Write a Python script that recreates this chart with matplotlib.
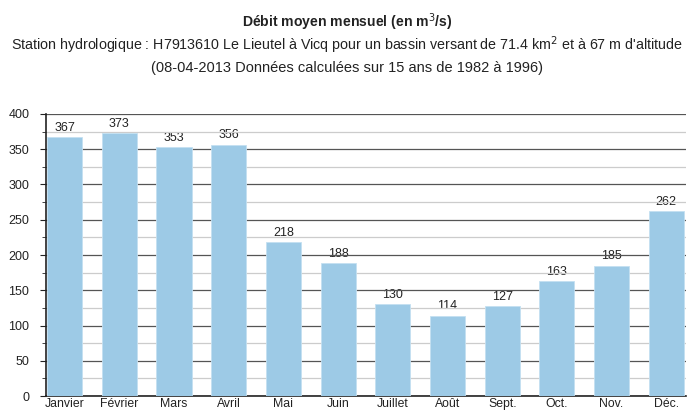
import matplotlib
matplotlib.use("Agg")
import matplotlib.pyplot as plt
from matplotlib.ticker import MultipleLocator

plt.rcParams['font.family'] = ['Liberation Sans', 'DejaVu Sans']

months = ["Janvier", "Février", "Mars", "Avril", "Mai", "Juin", "Juillet",
          "Août", "Sept.", "Oct.", "Nov.", "Déc."]
flow = [367, 373, 353, 356, 218, 188, 130, 114, 127, 163, 185, 262]

fig = plt.figure(figsize=(6.94, 4.11), dpi=100)
W, H = 694, 411
ax = fig.add_axes([46 / W, 1 - 396 / H, (686 - 46) / W, (396 - 114) / H])

x = list(range(len(months)))
ax.bar(x, flow, width=0.64, color="#9dcae6", edgecolor="#c4e0f1", linewidth=0.6, zorder=3)
for xi, v in zip(x, flow):
    ax.text(xi, v + 5, str(v), ha="center", va="bottom", fontsize=9, color="#222222", zorder=0.5)

ax.set_xlim(-0.34, 11.36)
ax.set_ylim(0, 400)
ax.yaxis.set_major_locator(MultipleLocator(50))
ax.yaxis.set_minor_locator(MultipleLocator(25))
ax.grid(axis="y", which="major", color="#555555", linewidth=0.9, zorder=1)
ax.grid(axis="y", which="minor", color="#cccccc", linewidth=0.9, zorder=1)
ax.set_xticks(x)
ax.set_xticklabels(months, fontsize=8.8, color="#222222")
ax.tick_params(axis="x", length=0, pad=1.5)
ax.tick_params(axis="y", which="major", length=4, color="#222222", labelsize=9, labelcolor="#222222", pad=8)
ax.tick_params(axis="y", which="minor", length=3, color="#222222")
for s in ("top", "right"):
    ax.spines[s].set_visible(False)
ax.spines["left"].set_color("#222222")
ax.spines["bottom"].set_color("#222222")
ax.spines["left"].set_linewidth(1.2)
ax.spines["bottom"].set_linewidth(1.2)

fig.text(0.5, 1 - 22 / H, "Débit moyen mensuel (en m$^3$/s)", ha="center", va="center",
         fontsize=10.1, fontweight="bold", color="#222222")
fig.text(0.5, 1 - 45 / H,
         "Station hydrologique : H7913610 Le Lieutel à Vicq pour un bassin versant de 71.4 km$^2$ et à 67 m d'altitude",
         ha="center", va="center", fontsize=10.3, color="#222222")
fig.text(0.5, 1 - 68 / H, "(08-04-2013 Données calculées sur 15 ans de 1982 à 1996)",
         ha="center", va="center", fontsize=10.5, color="#222222")

fig.savefig("out.png", dpi=100)
